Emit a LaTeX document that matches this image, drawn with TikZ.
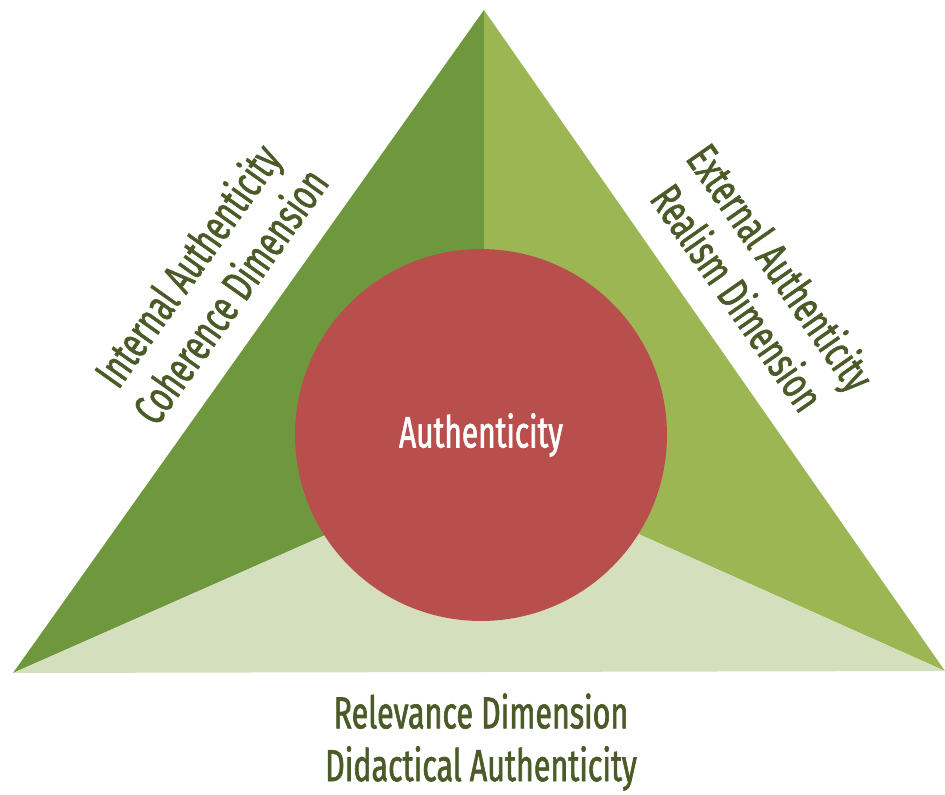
\documentclass[tikz,border=0pt]{standalone}
\usepackage{fontspec}
\newfontfamily\condfont[FakeStretch=0.68, FakeBold=1.4]{Fira Sans}
\usetikzlibrary{positioning}

\definecolor{innergreen}{HTML}{6F983E}
\definecolor{outergreen}{HTML}{9CB653}
\definecolor{palegreen}{HTML}{D4E0BD}
\definecolor{corered}{HTML}{B84F4D}
\definecolor{labelgreen}{HTML}{4B5A27}

\begin{document}
\begin{tikzpicture}[x=0.02cm, y=-0.02cm,
    dimlabel/.style={align=center, text=labelgreen, inner sep=0pt,
        font=\condfont\fontsize{25.5}{30}\selectfont},
    corelabel/.style={text=white, font=\condfont\fontsize{25}{29.5}\selectfont}]
    \useasboundingbox (0,0) rectangle (945,794);

    % Corners of the triangle
    \coordinate (apex) at (484,10);
    \coordinate (left) at (13,673);
    \coordinate (right) at (945,671);
    \coordinate (mid) at (484,465);

    % Three sectors
    \fill[innergreen] (apex) -- (left) -- (mid) -- cycle;
    \fill[outergreen] (apex) -- (mid) -- (right) -- cycle;
    \fill[palegreen] (left) -- (right) -- (mid) -- cycle;

    % Center
    \node[circle, fill=corered, minimum size=7.44cm, inner sep=0pt] (core) at (481,435) {};
    \node[corelabel] (corename) at (core.center) {Authenticity};

    % Dimension labels
    \node[dimlabel, rotate=54.6] (internal) at (208,280)
        {Internal Authenticity\\Coherence Dimension};
    \node[dimlabel, rotate=-55] (external) at (760,282)
        {External Authenticity\\Realism Dimension};
    \node[dimlabel] (relevance) at (481,742)
        {Relevance Dimension\\Didactical Authenticity};
\end{tikzpicture}
\end{document}
